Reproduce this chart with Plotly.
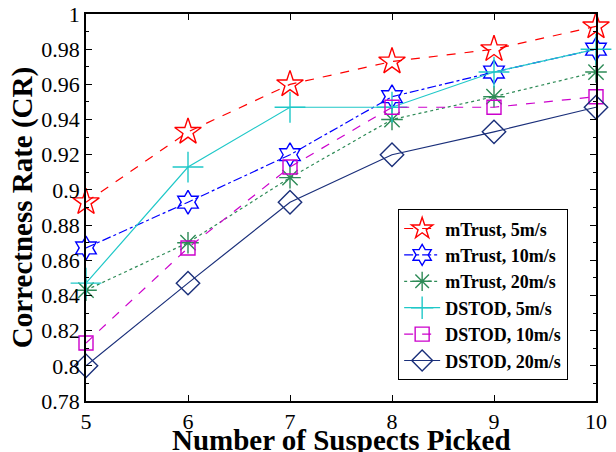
import plotly.graph_objects as go

x_vals = [5, 6, 7, 8, 9, 10]
mtrust_5 = [0.893, 0.933, 0.960, 0.973, 0.980, 0.993]
mtrust_10 = [0.867, 0.893, 0.920, 0.953, 0.967, 0.980]
mtrust_20 = [0.843, 0.870, 0.907, 0.940, 0.953, 0.967]
dstod_5 = [0.847, 0.913, 0.947, 0.947, 0.967, 0.980]
dstod_10 = [0.813, 0.867, 0.913, 0.947, 0.947, 0.953]
dstod_20 = [0.800, 0.847, 0.893, 0.920, 0.933, 0.947]

series = [
    ("mTrust, 5m/s", mtrust_5, "#FF0000", "dash", "star-open", 20),
    ("mTrust, 10m/s", mtrust_10, "#0000FF", "dashdot", "hexagram-open", 18),
    ("mTrust, 20m/s", mtrust_20, "#2E8B57", "dot", "asterisk-open", 18),
    ("DSTOD, 5m/s", dstod_5, "#1FC8C8", "solid", "cross-thin-open", 22),
    ("DSTOD, 10m/s", dstod_10, "#CC00CC", "dash", "square-open", 14),
    ("DSTOD, 20m/s", dstod_20, "#1A2F7A", "solid", "diamond-open", 18),
]

fig = go.Figure()
for name, ys, color, dash, sym, size in series:
    fig.add_trace(go.Scatter(
        x=x_vals, y=ys, name=name, mode="lines+markers",
        line=dict(color=color, dash=dash, width=1.2),
        marker=dict(symbol=sym, size=size, color=color, line=dict(color=color, width=1.4)),
        cliponaxis=False,
    ))

font_family = "Liberation Serif, Times New Roman, serif"
fig.update_layout(
    width=616, height=452,
    margin=dict(l=86, r=20, t=14, b=51),
    paper_bgcolor="white", plot_bgcolor="white",
    font=dict(family=font_family, size=22, color="black"),
    showlegend=True,
    legend=dict(
        x=0.945, y=0.054, xanchor="right", yanchor="bottom",
        bordercolor="black", borderwidth=1.2, bgcolor="white",
        font=dict(family=font_family, size=18, color="black", weight="bold"),
        tracegroupgap=0, itemwidth=36,
    ),
    xaxis=dict(
        range=[5, 10], tickvals=x_vals, ticktext=[str(v) for v in x_vals],
        showgrid=False, zeroline=False, showline=True, linecolor="black", linewidth=1.5,
        mirror="ticks", ticks="inside", ticklen=6, tickcolor="black",
        automargin=False,
    ),
    yaxis=dict(
        range=[0.78, 1.0], dtick=0.02, tickformat="~g",
        showgrid=False, zeroline=False, showline=True, linecolor="black", linewidth=1.5,
        mirror="ticks", ticks="inside", ticklen=6, tickcolor="black",
        minor=dict(dtick=0.01, ticks="inside", ticklen=3, tickcolor="black"),
        automargin=False,
        title=dict(text="<b>Correctness Rate (CR)</b>", font=dict(size=29), standoff=0),
    ),
    annotations=[dict(
        text="<b>Number of Suspects Picked</b>", xref="paper", yref="paper",
        x=0.5, y=-0.102, xanchor="center", yanchor="middle", showarrow=False,
        font=dict(family=font_family, size=29, color="black"),
    )],
)

fig.write_html(
    "out.html",
    config={"displayModeBar": False},
    post_script="document.body.style.margin='0';document.body.style.overflow='hidden';",
)
